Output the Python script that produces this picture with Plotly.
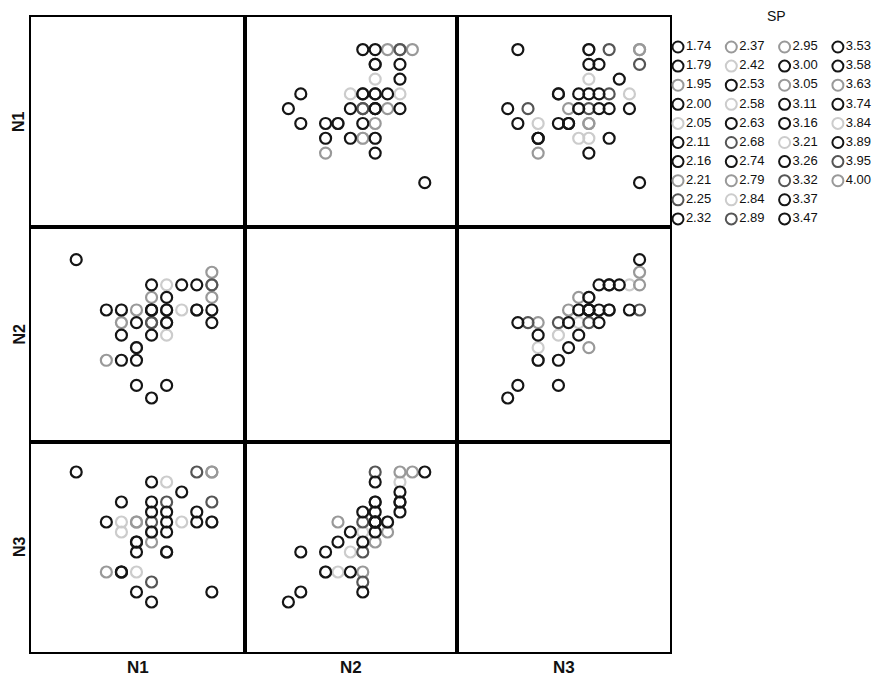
import plotly.graph_objects as go

# ---- data (one entry per observation) ----
N1 = [0,5,4,6,2,3,4,4,4,4,3,5,6,9,5,3,4,6,3,5,6,2,3,4,5,6,7,8,9,5,5,3,6,5,6,9,5,6,7,8,9,9,9,8]
N2 = [11,0,1,1,3,3,3,4,4,4,5,5,5,6,6,6,6,6,6,6,6,7,7,7,7,7,7,7,7,7,7,7,7,8,8,8,9,9,9,9,9,9,10,7]
N3 = [13,0,1,5,3,3,5,3,6,8,3,7,5,1,2,3,6,5,7,8,9,8,10,8,6,7,8,13,8,12,9,8,10,7,8,8,10,12,11,9,13,10,13,8]
SP = [3.47,1.74,1.79,2.16,1.95,2.00,2.16,2.05,2.32,2.37,2.11,2.63,2.42,2.53,2.25,2.21,2.53,2.68,2.58,2.89,
      3.11,2.74,3.00,2.95,2.79,3.00,3.21,3.95,3.53,3.58,3.16,2.84,3.32,3.05,3.26,3.63,3.58,3.84,3.89,3.74,
      4.00,3.95,4.00,3.37]

# legend categories (SP values) and their marker shade as seen in the scan
SP_LEVELS = [1.74,1.79,1.95,2.00,2.05,2.11,2.16,2.21,2.25,2.32,
             2.37,2.42,2.53,2.58,2.63,2.68,2.74,2.79,2.84,2.89,
             2.95,3.00,3.05,3.11,3.16,3.21,3.26,3.32,3.37,3.47,
             3.53,3.58,3.63,3.74,3.84,3.89,3.95,4.00]
SP_SHADE = ["D","D","F","D","X","D","D","F","M","D",
            "F","X","D","X","D","M","D","F","X","M",
            "F","D","F","D","D","X","D","M","D","D",
            "D","D","F","D","X","D","M","F"]
SHADES = {"D": "#151515", "M": "#555555", "F": "#999999", "X": "#cccccc"}

VARS = {"N1": N1, "N2": N2, "N3": N3}
NAMES = ["N1", "N2", "N3"]
RANGES = {"N1": [-3.0, 11.2], "N2": [-3.5, 13.6], "N3": [-5.0, 16.0]}

# the page body adds an 8px margin, so the figure is drawn 16px smaller
PAD = 8
W, H = 886 - 2 * PAD, 686 - 2 * PAD
col_px = [(31, 245), (245, 457), (457, 670)]   # page pixels
row_px = [(17, 227), (227, 442), (442, 652)]

def px(x):
    return (x - PAD) / W

def py(y):
    return 1 - (y - PAD) / H

shade_of = {v: SHADES[s] for v, s in zip(SP_LEVELS, SP_SHADE)}
colors = [shade_of[v] for v in SP]

fig = go.Figure()
layout = {}
for r, yname in enumerate(NAMES):
    for c, xname in enumerate(NAMES):
        k = r * 3 + c + 1
        xd = [px(col_px[c][0]), px(col_px[c][1])]
        yd = [py(row_px[r][1]), py(row_px[r][0])]
        ax = "" if k == 1 else str(k)
        layout[f"xaxis{ax}"] = dict(domain=xd, range=RANGES[xname], anchor=f"y{ax}",
                                    showline=True, mirror=True, linecolor="black", linewidth=2,
                                    showgrid=False, zeroline=False, showticklabels=False, ticks="")
        layout[f"yaxis{ax}"] = dict(domain=yd, range=RANGES[yname], anchor=f"x{ax}",
                                    showline=True, mirror=True, linecolor="black", linewidth=2,
                                    showgrid=False, zeroline=False, showticklabels=False, ticks="")
        if r == c:
            fig.add_trace(go.Scatter(x=[None], y=[None], xaxis=f"x{ax}", yaxis=f"y{ax}",
                                     mode="markers", showlegend=False))
            continue
        # draw lighter markers first so darker ones sit on top
        order = sorted(range(len(SP)), key=lambda i: -int(colors[i][1:3], 16))
        fig.add_trace(go.Scatter(
            x=[VARS[xname][i] for i in order], y=[VARS[yname][i] for i in order],
            mode="markers", xaxis=f"x{ax}", yaxis=f"y{ax}", showlegend=False,
            marker=dict(symbol="circle-open", size=11, color=[colors[i] for i in order],
                        line=dict(width=2.2)),
            hoverinfo="skip"))

# legend panel built on a pixel-unit axis placed right of the matrix
LX0, LY1 = 672, 232
layout["xaxis10"] = dict(domain=[px(LX0), 1], range=[LX0, 886 - PAD], anchor="y10",
                         visible=False, fixedrange=True)
layout["yaxis10"] = dict(domain=[py(LY1), 1], range=[LY1, PAD], anchor="x10",
                         visible=False, fixedrange=True)
lx = [678 + 53.3 * (i // 10) for i in range(len(SP_LEVELS))]
ly = [47 + 19.1 * (i % 10) for i in range(len(SP_LEVELS))]
fig.add_trace(go.Scatter(
    x=lx, y=ly, xaxis="x10", yaxis="y10", mode="markers+text",
    text=[f"{v:.2f}" for v in SP_LEVELS], textposition="middle right",
    textfont=dict(family="Liberation Sans, Arial", size=13, color="#111"),
    marker=dict(symbol="circle-open", size=11, color=[SHADES[s] for s in SP_SHADE],
                line=dict(width=2)),
    showlegend=False, hoverinfo="skip", cliponaxis=False))

ann = []
ann.append(dict(text="SP", x=px(776), y=py(16), xref="paper", yref="paper",
                xanchor="center", yanchor="middle",
                showarrow=False, font=dict(family="Liberation Sans, Arial", size=14, color="#111")))
for c, name in enumerate(NAMES):
    cx = px((col_px[c][0] + col_px[c][1]) / 2)
    ann.append(dict(text=f"<b>{name}</b>", x=cx, y=py(667), xref="paper", yref="paper",
                    xanchor="center", yanchor="middle",
                    showarrow=False, font=dict(family="Liberation Sans, Arial", size=17, color="#111")))
for r, name in enumerate(NAMES):
    cy = py((row_px[r][0] + row_px[r][1]) / 2)
    ann.append(dict(text=f"<b>{name}</b>", x=px(19), y=cy, xref="paper", yref="paper",
                    xanchor="center", yanchor="middle", textangle=-90, showarrow=False,
                    font=dict(family="Liberation Sans, Arial", size=16, color="#111")))

fig.update_layout(width=W, height=H, margin=dict(l=0, r=0, t=0, b=0),
                  paper_bgcolor="white", plot_bgcolor="rgba(0,0,0,0)", annotations=ann,
                  showlegend=False, **layout)
fig.write_html("out.html")
